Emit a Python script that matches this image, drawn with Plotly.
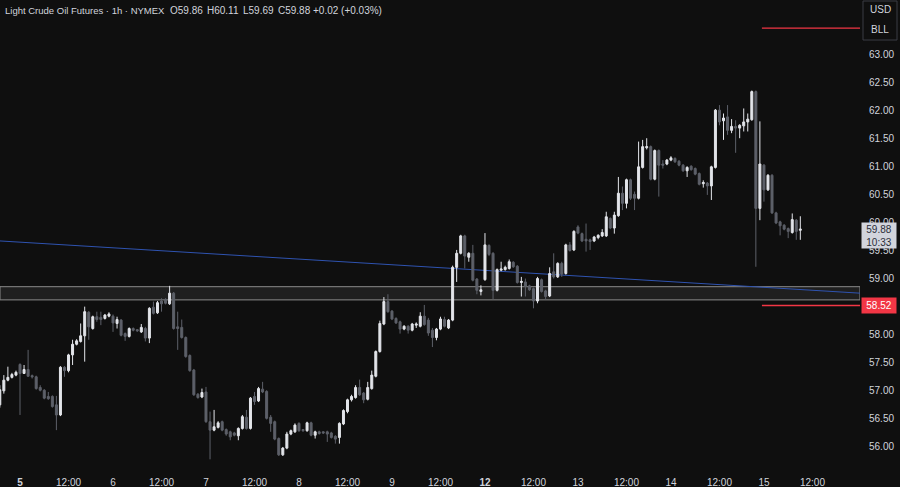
import plotly.graph_objects as go

# ---------------- data (hourly bars, index-based time axis) ----------------
open_ = [56.75,57.00,57.19,57.24,57.28,57.47,57.31,57.38,57.27,57.25,
         57.06,57.01,56.90,56.90,56.75,56.57,57.42,57.36,57.64,57.83,
         57.88,57.98,58.40,58.11,58.32,58.31,58.29,58.33,58.33,58.20,
         58.26,58.02,57.97,58.11,58.09,58.05,58.11,57.94,58.49,58.39,
         58.60,58.63,58.55,58.74,58.14,58.13,57.95,57.63,57.37,56.94,
         56.89,56.98,56.45,56.30,56.35,56.45,56.31,56.27,56.25,56.20,
         56.33,56.53,56.33,56.90,56.82,57.03,56.99,56.53,56.45,56.15,
         55.86,55.98,56.23,56.27,56.42,56.31,56.29,56.43,56.21,56.27,
         56.27,56.27,56.25,56.19,56.17,56.41,56.63,56.84,56.88,57.06,
         56.96,56.85,57.04,57.26,57.70,58.19,58.59,58.42,58.29,58.23,
         58.10,58.15,58.08,58.17,58.15,58.33,58.26,58.08,57.95,58.10,
         58.27,58.12,58.26,59.20,59.45,59.76,59.38,59.45,58.99,58.77,
         58.98,59.59,59.45,58.79,59.15,59.16,59.18,59.29,59.22,58.93,
         58.94,58.87,58.82,58.60,58.98,58.78,58.69,59.12,59.03,59.27,
         59.09,59.60,59.51,59.92,59.80,59.70,59.69,59.67,59.73,59.76,
         59.76,60.07,59.90,60.12,60.52,60.34,60.76,60.50,60.43,60.98,
         61.33,61.35,60.77,61.28,61.04,61.04,61.11,61.14,61.09,61.02,
         60.92,61.00,60.96,60.87,60.69,60.70,60.65,60.98,62.00,61.81,
         61.88,61.64,61.71,61.68,61.72,61.79,61.83,62.33,60.25,61.02,
         60.58,60.84,60.17,60.01,59.95,59.89,59.82,60.04,59.86]
high = [57.10,57.28,57.43,57.32,57.36,57.49,57.46,57.73,57.29,57.27,
        57.10,57.03,56.98,56.92,56.91,57.44,57.44,57.66,57.91,57.92,
        58.20,58.50,58.42,58.34,58.41,58.41,58.37,58.40,58.36,58.32,
        58.28,58.04,58.13,58.13,58.10,58.19,58.14,58.49,58.59,58.60,
        58.65,58.65,58.87,58.76,58.41,58.27,57.97,57.65,57.39,56.96,
        57.04,57.07,56.63,56.66,56.46,56.47,56.33,56.29,56.27,56.35,
        56.57,56.66,56.89,56.98,57.07,57.16,57.01,56.57,56.47,56.17,
        56.00,56.27,56.31,56.42,56.44,56.32,56.45,56.45,56.29,56.29,
        56.28,56.29,56.27,56.21,56.44,56.67,56.86,56.93,57.10,57.20,
        56.98,57.16,57.36,57.72,58.25,58.67,58.72,58.44,58.31,58.25,
        58.17,58.17,58.21,58.22,58.40,58.53,58.30,58.12,58.12,58.32,
        58.32,58.28,59.23,59.51,59.78,59.78,59.47,59.60,59.01,58.88,
        59.81,59.61,59.47,59.18,59.30,59.23,59.34,59.31,59.24,59.03,
        59.00,58.89,58.84,59.03,59.00,58.80,59.20,59.45,59.29,59.30,
        59.62,59.65,59.86,59.95,59.82,59.98,59.71,59.76,59.79,59.88,
        60.19,60.09,60.19,60.81,60.64,60.78,60.78,60.55,61.44,61.47,
        61.50,61.37,61.30,61.30,61.11,61.13,61.18,61.16,61.11,61.04,
        61.00,61.02,60.98,60.89,60.75,60.72,61.01,62.02,62.09,61.94,
        62.09,61.84,61.82,61.75,62.03,61.94,62.35,62.35,61.80,61.04,
        60.86,60.86,60.19,60.03,59.97,59.91,60.16,60.06,60.11]
low = [56.70,56.95,57.17,57.22,57.26,56.57,57.30,57.25,57.22,57.02,
       56.99,56.85,56.84,56.70,56.30,56.55,57.25,57.33,57.46,57.81,
       57.86,57.52,57.91,58.09,58.23,58.17,58.27,58.31,58.05,58.11,
       57.97,57.89,57.95,58.06,58.05,58.03,57.88,57.85,58.36,58.37,
       58.41,58.54,58.53,58.09,57.73,57.93,57.59,57.34,56.91,56.86,
       56.87,56.43,55.78,56.28,56.33,56.28,56.20,56.12,56.19,56.12,
       56.31,56.31,56.31,56.75,56.80,56.96,56.49,56.27,56.12,55.84,
       55.84,55.96,56.21,56.25,56.27,56.27,56.27,56.19,56.15,56.22,
       56.23,56.09,56.15,56.06,56.06,56.39,56.60,56.81,56.86,56.91,
       56.78,56.83,57.02,57.24,57.68,58.17,58.39,58.26,58.19,58.02,
       58.08,58.02,58.06,58.12,58.13,58.16,57.98,57.78,57.90,58.08,
       58.13,58.10,58.24,58.94,59.43,59.18,59.30,58.95,58.72,58.70,
       58.96,59.40,58.63,58.77,59.13,59.14,59.16,59.19,58.91,58.68,
       58.68,58.78,58.47,58.56,58.75,58.62,58.67,59.00,59.01,59.03,
       59.07,59.48,59.49,59.79,59.65,59.48,59.51,59.65,59.70,59.74,
       59.74,59.88,59.80,60.10,60.22,60.25,60.40,60.22,60.41,60.96,
       61.30,60.75,60.75,60.46,60.96,61.02,61.09,61.06,61.00,60.90,
       60.81,60.92,60.84,60.66,60.62,60.49,60.40,60.96,61.73,61.47,
       61.56,61.59,61.24,61.50,61.62,61.62,61.81,59.21,60.04,60.37,
       60.56,60.15,59.97,59.77,59.86,59.72,59.80,59.69,59.69]
close = [57.02,57.19,57.24,57.29,57.33,57.31,57.38,57.26,57.25,57.04,
         57.01,56.87,56.86,56.72,56.57,57.42,57.36,57.64,57.83,57.89,
         57.98,58.41,58.14,58.32,58.27,58.27,58.35,58.37,58.21,58.27,
         57.99,57.97,58.11,58.08,58.07,58.13,57.94,58.47,58.38,58.57,
         58.55,58.56,58.74,58.11,58.11,57.95,57.61,57.36,56.93,56.88,
         56.97,56.45,56.30,56.36,56.43,56.30,56.23,56.18,56.21,56.33,
         56.54,56.33,56.87,56.81,57.04,56.98,56.51,56.42,56.14,55.86,
         55.98,56.23,56.29,56.39,56.29,56.29,56.43,56.21,56.27,56.24,
         56.25,56.23,56.17,56.14,56.42,56.65,56.84,56.90,57.06,56.93,
         56.84,57.06,57.28,57.70,58.20,58.59,58.41,58.28,58.21,58.10,
         58.15,58.08,58.19,58.19,58.33,58.18,58.03,57.95,58.10,58.28,
         58.15,58.26,59.20,59.45,59.76,59.40,59.45,58.97,58.79,58.80,
         59.60,59.43,58.79,59.16,59.17,59.20,59.30,59.21,58.93,58.95,
         58.86,58.80,58.60,59.00,58.77,58.68,59.09,59.03,59.27,59.08,
         59.60,59.50,59.84,59.81,59.67,59.67,59.66,59.74,59.77,59.82,
         60.10,59.90,60.13,60.52,60.34,60.76,60.43,60.43,60.99,61.35,
         61.35,60.77,61.28,61.02,61.02,61.11,61.15,61.08,61.02,60.92,
         60.98,60.94,60.86,60.68,60.71,60.65,60.99,62.00,61.79,61.86,
         61.64,61.71,61.68,61.73,61.79,61.84,62.33,60.25,61.04,60.58,
         60.84,60.17,59.99,59.94,59.88,59.84,60.05,59.84,59.88]
bar_index = list(range(len(close)))

# time-axis labels (bar index -> label)
tick_index = [5, 17, 28, 40, 51, 63, 74, 86, 97, 109, 120, 132, 143, 155, 166, 178, 189, 201]
tick_text = ["<b>5</b>", "12:00", "6", "12:00", "7", "12:00", "8", "12:00", "9", "12:00",
             "<b>12</b>", "12:00", "13", "12:00", "14", "12:00", "15", "12:00"]

# 58.50 is hidden behind the red level label in the reference
price_ticks = [56.0, 56.5, 57.0, 57.5, 58.0, 59.0, 59.5, 60.0, 60.5, 61.0, 61.5, 62.0, 62.5, 63.0]

# drawings
zone_low, zone_high = 58.62, 58.855
trend_start = (0.05, 59.67)
trend_end = (212.76, 58.74)
red_levels = [63.46, 58.52]
red_start = 188.5
last_price = 59.88
countdown = "10:33"

x_range = [0.05, 212.76]
y_range = [55.768, 63.962]

BG = "#0f0f0f"
TXT = "#d1d4dc"
UP = "#e3e5ea"
DOWN = "#5d6069"
RED = "#f23645"
FONT = "Liberation Sans"

fig = go.Figure()
fig.add_trace(go.Candlestick(
    x=bar_index, open=open_, high=high, low=low, close=close,
    increasing=dict(line=dict(color=UP, width=1), fillcolor=UP),
    decreasing=dict(line=dict(color=DOWN, width=1), fillcolor=DOWN),
    showlegend=False, hoverinfo="skip"))

shapes = []
# support zone
shapes.append(dict(type="rect", xref="x", yref="y", x0=x_range[0], x1=x_range[1],
                   y0=zone_low, y1=zone_high, line=dict(color="#8a8a8a", width=1),
                   fillcolor="rgba(255,255,255,0.07)", layer="below"))
# trend line
shapes.append(dict(type="line", xref="x", yref="y", x0=trend_start[0], y0=trend_start[1],
                   x1=trend_end[0], y1=trend_end[1], line=dict(color="#2f53b0", width=1),
                   layer="below"))
for lv in red_levels:
    shapes.append(dict(type="line", xref="x", yref="y", x0=red_start, x1=x_range[1],
                       y0=lv, y1=lv, line=dict(color=RED, width=1.3)))
# currency / unit box
shapes.append(dict(type="rect", xref="paper", yref="paper", x0=863/860, x1=897/860,
                   y0=(460-40)/460, y1=(460-1)/460, line=dict(color="#3a3d45", width=1),
                   fillcolor=BG))

ann = []
def txt(x_px, y_px, s, size=10, color=TXT, anchor="left"):
    ann.append(dict(xref="paper", yref="paper", x=x_px/860, y=(460-y_px)/460, text=s,
                    showarrow=False, xanchor=anchor, yanchor="middle",
                    font=dict(family=FONT, size=size, color=color)))

txt(3, 11, "Light Crude Oil Futures · 1h · NYMEX", size=9.5)
txt(168, 11, "O59.86")
txt(205, 11, "H60.11")
txt(241, 11, "L59.69")
txt(276, 11, "C59.88")
txt(311, 11, "+0.02 (+0.03%)")
txt(880, 10, "USD", anchor="center")
txt(880, 30, "BLL", anchor="center")

# price labels on the axis
ann.append(dict(xref="paper", yref="y", x=861/860, y=red_levels[1], text="58.52",
                showarrow=False, xanchor="left", yanchor="middle", bgcolor=RED,
                width=32, height=13, borderpad=1,
                font=dict(family=FONT, size=10, color="#ffffff")))
ann.append(dict(xref="paper", yref="y", x=861/860, y=59.767,
                text=f"{last_price:.2f}<br>{countdown}", showarrow=False,
                xanchor="left", yanchor="middle", bgcolor="#d1d4dc",
                width=32, height=23, borderpad=1,
                font=dict(family=FONT, size=10, color="#2a2e39")))

fig.update_layout(
    width=900, height=487,
    margin=dict(l=0, r=40, t=0, b=27),
    paper_bgcolor=BG, plot_bgcolor=BG,
    shapes=shapes, annotations=ann,
    xaxis=dict(range=x_range, tickvals=tick_index, ticktext=tick_text,
               showgrid=False, zeroline=False, showline=False,
               ticks="outside", ticklen=13, tickcolor=BG,
               tickfont=dict(family=FONT, size=10, color=TXT),
               rangeslider=dict(visible=False)),
    yaxis=dict(range=y_range, side="right", tickvals=price_ticks,
               ticktext=[f"{v:.2f}" for v in price_ticks],
               showgrid=False, zeroline=False, showline=False,
               ticks="outside", ticklen=6, tickcolor=BG,
               tickfont=dict(family=FONT, size=10, color=TXT)),
)

fig.write_html("out.html", config={"displayModeBar": False},
               post_script="document.body.style.margin='0';document.body.style.background='#0f0f0f';")
